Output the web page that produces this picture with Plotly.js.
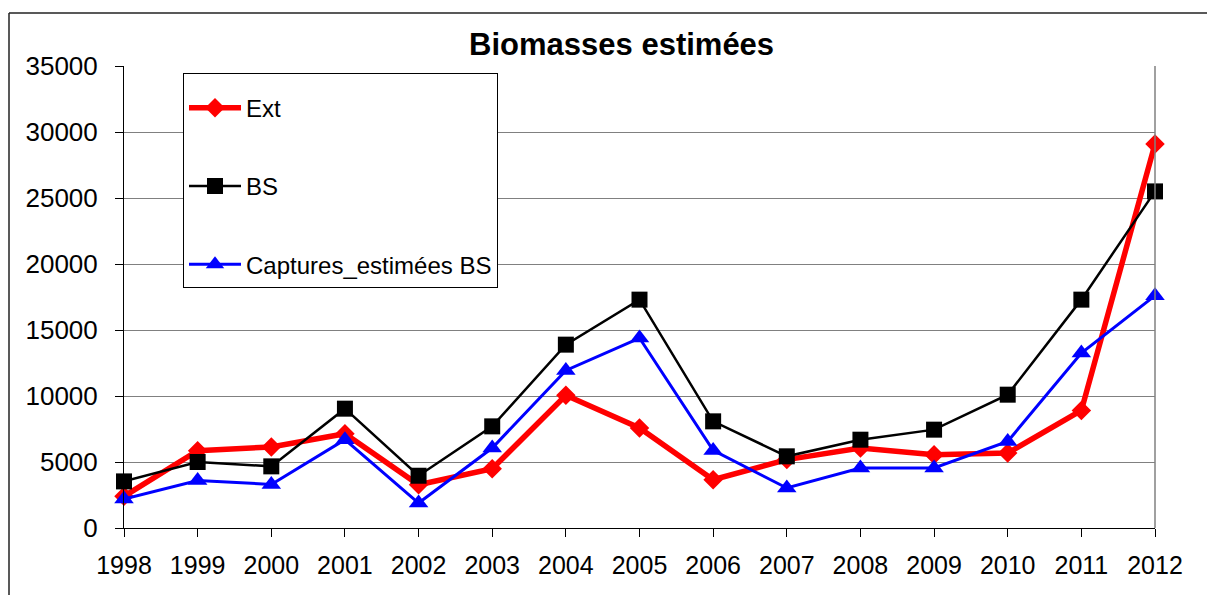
<!DOCTYPE html>
<html>
<head>
<meta charset="utf-8">
<script src="https://cdn.plot.ly/plotly-3.0.1.min.js"></script>
<style>html,body{margin:0;padding:0;background:#fff;}#chart{width:1207px;height:595px;}</style>
</head>
<body>
<div id="chart"></div>
<script>
var years = [1998,1999,2000,2001,2002,2003,2004,2005,2006,2007,2008,2009,2010,2011,2012];
var ext = [2400,5850,6140,7140,3280,4490,10050,7580,3660,5180,6060,5550,5680,8910,29090];
var bs = [3530,5000,4670,9040,3960,7700,13890,17300,8080,5430,6690,7450,10100,17300,25500];
var captures = [2200,3600,3300,6690,1890,6060,11940,14390,5880,3030,4550,4550,6560,13260,17600];
var yTicks = [0,5000,10000,15000,20000,25000,30000,35000];

var FONT = 'Liberation Sans, Arial, sans-serif';

var traces = [
  {x: years, y: ext, name: 'Ext', type: 'scatter', mode: 'lines+markers', legendgroup: 'a', cliponaxis: false,
   line: {color: '#ff0000', width: 5.5}, marker: {symbol: 'diamond', size: 15, color: '#ff0000'}},
  {x: years, y: bs, name: 'BS', type: 'scatter', mode: 'lines+markers', legendgroup: 'b', cliponaxis: false,
   line: {color: '#000000', width: 2.5}, marker: {symbol: 'square', size: 16, color: '#000000'}},
  {x: years, y: captures, name: 'Captures_estimées BS', type: 'scatter', mode: 'lines+markers', legendgroup: 'c', cliponaxis: false,
   line: {color: '#0000ff', width: 3}, marker: {symbol: 'triangle-up', size: 17, color: '#0000ff'}}
];

var x0 = (9 - 124) / 1031, yTop = (528 - 13) / 462;

var layout = {
  width: 1207, height: 595,
  margin: {l: 124, r: 52, t: 66, b: 67},
  paper_bgcolor: '#ffffff', plot_bgcolor: '#ffffff',
  font: {family: FONT, color: '#000000', size: 25},
  title: {text: 'Biomasses estimées', font: {family: FONT, size: 31, weight: 'bold', color: '#000'},
          x: 0.515, xanchor: 'center', y: 1 - 44/595, yanchor: 'middle', xref: 'container', yref: 'container'},
  xaxis: {type: 'linear', range: [1998, 2012], tickmode: 'array', tickvals: years, ticktext: years.map(String),
          showgrid: false, zeroline: false, showline: true, linecolor: '#000', linewidth: 1,
          ticks: 'outside', ticklen: 8, tickcolor: '#000', tickfont: {family: FONT, size: 25}, ticklabelstandoff: 7},
  yaxis: {range: [0, 35000], tickmode: 'array', tickvals: yTicks, ticktext: yTicks.map(String),
          showgrid: true, gridcolor: '#808080', gridwidth: 1, zeroline: false,
          showline: true, linecolor: '#000', linewidth: 1,
          ticks: 'outside', ticklen: 8, tickcolor: '#000', tickfont: {family: FONT, size: 26}, ticklabelstandoff: 12},
  showlegend: true,
  legend: {x: (183 - 124) / 1031, y: (528 - 73) / 462, xanchor: 'left', yanchor: 'top',
           bgcolor: '#ffffff', bordercolor: '#000', borderwidth: 1,
           title: {text: '&nbsp;', font: {size: 9}},
           font: {family: FONT, size: 24, color: '#000'}, tracegroupgap: 44, itemwidth: 52},
  shapes: [
    {type: 'line', xref: 'paper', yref: 'paper', x0: 1, x1: 1, y0: 0, y1: 1, line: {color: '#808080', width: 1.5}},
    {type: 'line', xref: 'paper', yref: 'paper', x0: x0, x1: 1.2, y0: yTop, y1: yTop, line: {color: '#222', width: 1.5}},
    {type: 'line', xref: 'paper', yref: 'paper', x0: x0, x1: x0, y0: -0.3, y1: yTop, line: {color: '#222', width: 1.5}}
  ]
};

Plotly.newPlot('chart', traces, layout, {displayModeBar: false, staticPlot: true});
</script>
</body>
</html>
